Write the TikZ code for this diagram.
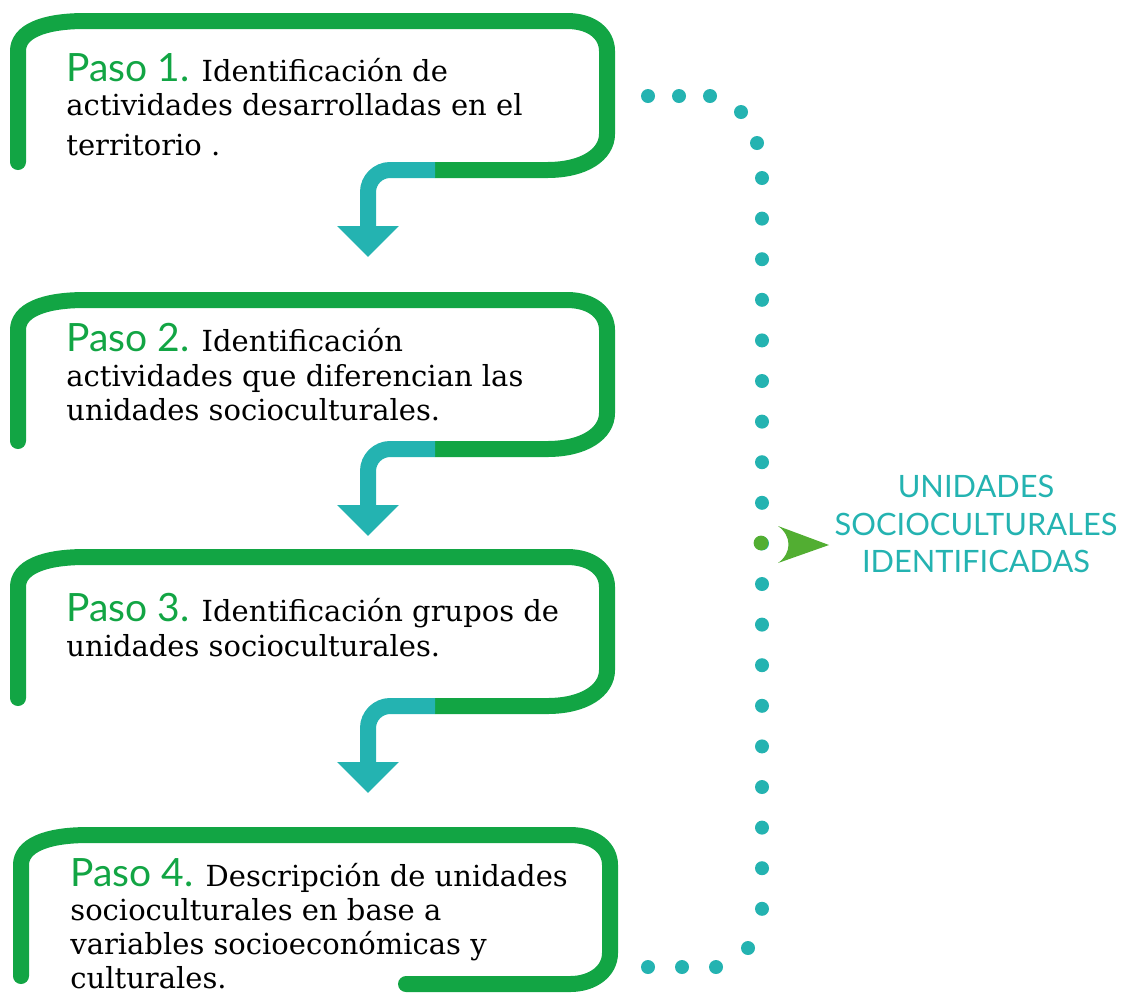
\documentclass[tikz,border=0pt]{standalone}
\usepackage{fontspec}
\setmainfont{DejaVu Serif}
\newfontfamily\pasofont{Lato}
\usetikzlibrary{arrows.meta}
\definecolor{pasogreen}{HTML}{12A544}
\definecolor{pasoteal}{HTML}{24B3B1}
\definecolor{pasolime}{HTML}{52AE32}
\newcommand{\paso}[1]{{\pasofont\fontsize{19.5pt}{17.25pt}\selectfont\color{pasogreen}#1}}
\tikzset{
  frame/.style={draw=pasogreen, line width=8pt, line cap=round},
  turn/.style={draw=pasoteal, line width=8pt, -{Triangle[width=30pt,length=15.5pt]}},
  steptext/.style={anchor=north west, inner sep=0pt, align=left,
    font=\fontsize{14.5pt}{17.25pt}\selectfont},
  dot/.style={fill=pasoteal},
}

\begin{document}
\begin{tikzpicture}[x=0.5pt, y=-0.5pt]
  \useasboundingbox (0,0) rectangle (1122,993);
  % step frames
  \foreach \s in {0,279,536} {
    \begin{scope}[shift={(0,\s)}]
      \draw[frame] (18,162) -- (18,51) .. controls (18,32) and (42,21) .. (85,21)
        -- (567,21) .. controls (592,21) and (607,34) .. (607,51)
        -- (607,134) .. controls (607,154) and (585,170) .. (547,170) -- (435,170);
      \draw[turn] (435,170) -- (390,170) .. controls (378,170) and (368,180) .. (368,192) -- (368,257);
    \end{scope}
  }
  \begin{scope}[shift={(3,814)}]
    \draw[frame] (18,162) -- (18,51) .. controls (18,32) and (42,21) .. (85,21)
      -- (567,21) .. controls (592,21) and (607,34) .. (607,51)
      -- (607,139) .. controls (607,157) and (590,170) .. (567,170) -- (403,170);
  \end{scope}

  % texts
  \node[steptext] (p1) at (66,53) {\paso{Paso 1.} Identificación de\\ actividades desarrolladas en el\\[2.75pt] territorio .};
  \node[steptext] (p2) at (66,323) {\paso{Paso 2.} Identificación\\ actividades que diferencian las\\ unidades socioculturales.};
  \node[steptext] (p3) at (66,593) {\paso{Paso 3.} Identificación grupos de\\ unidades socioculturales.};
  \node[steptext, font=\fontsize{14.5pt}{17pt}\selectfont] (p4) at (70,858)
    {\paso{Paso 4.} Descripción de unidades\\ socioculturales en base a\\ variables socioeconómicas y\\ culturales.};

  % dotted bracket
  \foreach \x in {648,679,710} \fill[dot] (\x,96) circle (3.5pt);
  \fill[dot] (741,112) circle (3.5pt);
  \fill[dot] (757,143) circle (3.5pt);
  \foreach \i in {0,...,18} \fill[dot] (762,{178+40.6*\i}) circle (3.5pt);
  \fill[dot] (748,948) circle (3.5pt);
  \foreach \x in {648,682,716} \fill[dot] (\x,967) circle (3.5pt);

  % result
  \fill[pasolime] (761,543) circle (3.7pt);
  \fill[pasolime] (778,526) -- (829,545) -- (778,563) .. controls (792,553) and (792,536) .. (778,526);
  \node[anchor=north, inner sep=0pt, align=center, text=pasoteal,
    font=\pasofont\fontsize{15.4pt}{18.75pt}\selectfont] (unid) at (976,475)
    {UNIDADES\\ SOCIOCULTURALES\\ IDENTIFICADAS};
\end{tikzpicture}
\end{document}
